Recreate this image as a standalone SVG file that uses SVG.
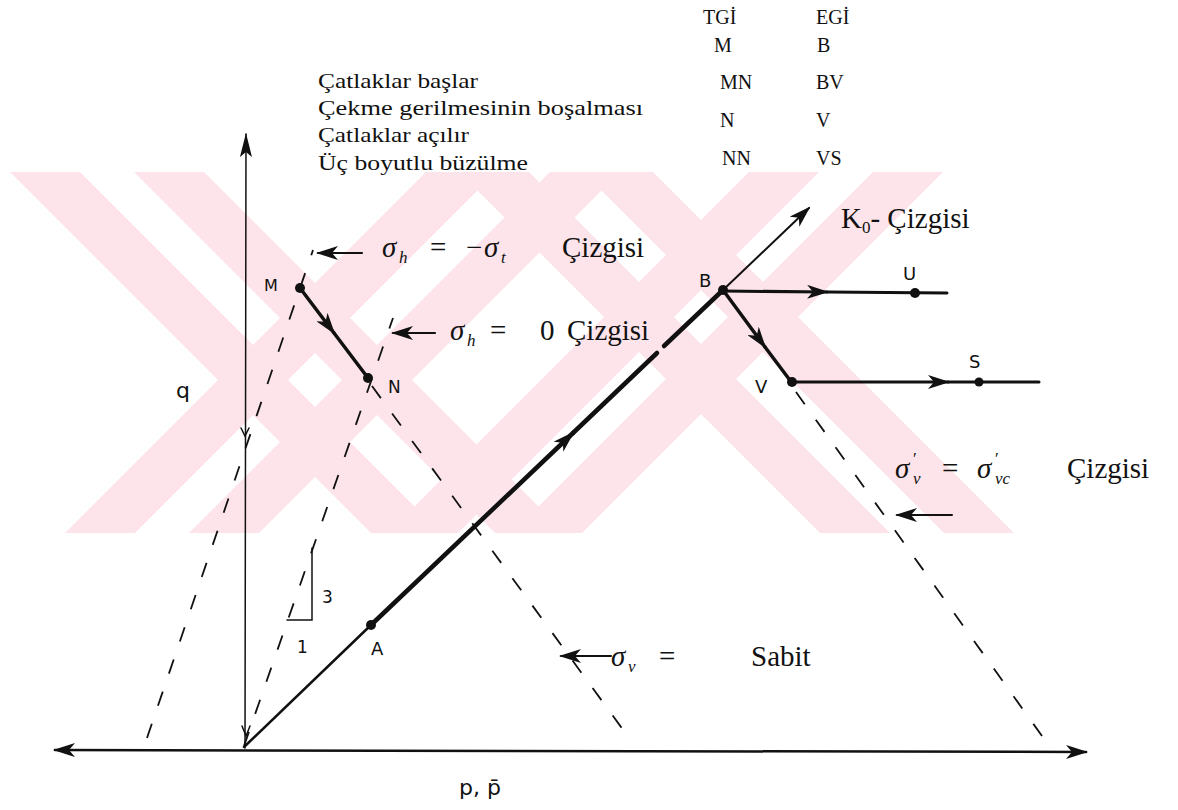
<svg xmlns="http://www.w3.org/2000/svg" width="1178" height="810" viewBox="0 0 1178 810">
<style>
.wm{fill:#fde4ea;stroke:none}
.ln{stroke:#111;fill:none;stroke-linecap:round}
.dash{stroke:#111;fill:none;stroke-width:1.8;stroke-dasharray:15 19}
.dot{fill:#111}
.serif{font-family:"Liberation Serif","Times New Roman",serif;fill:#111}
.mth{font-family:"Liberation Serif","Times New Roman",serif;font-style:italic;fill:#111}
.sans{font-family:"DejaVu Sans","Liberation Sans",sans-serif;fill:#111}
</style>
<defs>
<marker id="ah" viewBox="0 0 22 14" refX="20" refY="7" markerWidth="22" markerHeight="14" markerUnits="userSpaceOnUse" orient="auto-start-reverse"><path d="M0,0 L22,7 L0,14 L6,7 Z" fill="#111"/></marker>
<marker id="ahn" viewBox="0 0 24 12" refX="23" refY="6" markerWidth="24" markerHeight="12" markerUnits="userSpaceOnUse" orient="auto"><path d="M0,0 L24,6 L0,12 L5,6 Z" fill="#111"/></marker>
</defs>
<g id="watermark">
<polygon class="wm" points="10,172 80,172 441,533 371,533"/>
<polygon class="wm" points="134,172 204,172 565,533 495,533"/>
<polygon class="wm" points="426,172 496,172 135,533 65,533"/>
<polygon class="wm" points="550,172 620,172 259,533 189,533"/>
<polygon class="wm" points="459,172 529,172 890,533 820,533"/>
<polygon class="wm" points="583,172 653,172 1014,533 944,533"/>
<polygon class="wm" points="749,172 819,172 458,533 388,533"/>
<polygon class="wm" points="873,172 943,172 582,533 512,533"/>
</g>
<g id="axes">
<line class="ln" x1="55" y1="750" x2="1086" y2="752" stroke-width="2.5" marker-start="url(#ah)" marker-end="url(#ah)"/>
<line class="ln" x1="245" y1="748" x2="246" y2="134" stroke-width="1.5" marker-end="url(#ahn)"/>
<polyline class="ln" points="241,428 245,436 249,428" stroke-width="1.5"/>
<polyline class="ln" points="242,726 246,736 250,726" stroke-width="1.5"/>
</g>
<g id="dashed-lines">
<line class="dash" x1="147" y1="738" x2="313" y2="250"/>
<line class="dash" x1="244" y1="746" x2="393" y2="318"/>
<line class="dash" x1="372" y1="386" x2="632" y2="742"/>
<line class="dash" x1="796" y1="392" x2="1042" y2="736"/>
<polyline class="ln" points="312,548 312,620 287,620" stroke-width="1.5"/>
</g>
<g id="connectors">
<line class="ln" x1="244" y1="747" x2="371" y2="625" stroke-width="2.5"/>
<line class="ln" x1="371" y1="625" x2="573" y2="433" stroke-width="4.5" marker-end="url(#ah)"/>
<line class="ln" x1="573" y1="433" x2="657" y2="353" stroke-width="4.5"/>
<line class="ln" x1="664" y1="346" x2="723" y2="290" stroke-width="4.5"/>
<line class="ln" x1="723" y1="290" x2="809" y2="208" stroke-width="2" marker-end="url(#ah)"/>
<line class="ln" x1="300" y1="288" x2="334" y2="333" stroke-width="3.5" marker-end="url(#ah)"/>
<line class="ln" x1="334" y1="333" x2="368" y2="378" stroke-width="3.5"/>
<line class="ln" x1="723" y1="291" x2="827" y2="292" stroke-width="3" marker-end="url(#ah)"/>
<line class="ln" x1="827" y1="292" x2="947" y2="293" stroke-width="3"/>
<line class="ln" x1="723" y1="290" x2="765" y2="347" stroke-width="3.5" marker-end="url(#ah)"/>
<line class="ln" x1="765" y1="347" x2="792" y2="383" stroke-width="3.5"/>
<line class="ln" x1="792" y1="382" x2="948" y2="382" stroke-width="3" marker-end="url(#ah)"/>
<line class="ln" x1="948" y1="382" x2="1039" y2="382" stroke-width="3"/>
<line class="ln" x1="362" y1="253" x2="318" y2="253" stroke-width="2.2" marker-end="url(#ah)"/>
<line class="ln" x1="435" y1="333" x2="393" y2="333" stroke-width="2.2" marker-end="url(#ah)"/>
<line class="ln" x1="611" y1="656" x2="561" y2="656" stroke-width="2" marker-end="url(#ah)"/>
<line class="ln" x1="952" y1="515" x2="897" y2="515" stroke-width="2" marker-end="url(#ah)"/>
</g>
<g id="node-M"><circle class="dot" cx="300" cy="288" r="5"/><text class="sans" x="264" y="291" font-size="16">M</text></g>
<g id="node-N"><circle class="dot" cx="368" cy="378" r="5"/><text class="sans" x="388" y="393" font-size="17">N</text></g>
<g id="node-A"><circle class="dot" cx="371" cy="625" r="5"/><text class="sans" x="371" y="655" font-size="18">A</text></g>
<g id="node-B"><circle class="dot" cx="723" cy="290" r="5"/><text class="sans" x="699" y="287" font-size="18">B</text></g>
<g id="node-U"><circle class="dot" cx="915" cy="293" r="5"/><text class="sans" x="903" y="280" font-size="18">U</text></g>
<g id="node-V"><circle class="dot" cx="792" cy="382" r="5"/><text class="sans" x="755" y="393" font-size="18">V</text></g>
<g id="node-S"><circle class="dot" cx="979" cy="382" r="4.5"/><text class="sans" x="969" y="368" font-size="18">S</text></g>
<g id="axis-labels">
<text class="sans" x="176" y="398" font-size="22">q</text>
<text class="sans" x="459" y="795" font-size="22">p, p̄</text>
<text class="sans" x="322" y="603" font-size="17">3</text>
<text class="sans" x="297" y="653" font-size="17">1</text>
</g>
<g id="legend">
<text class="serif" x="318" y="88" font-size="22" textLength="160" lengthAdjust="spacingAndGlyphs">Çatlaklar başlar</text>
<text class="serif" x="318" y="115" font-size="22" textLength="325" lengthAdjust="spacingAndGlyphs">Çekme gerilmesinin boşalması</text>
<text class="serif" x="318" y="142" font-size="22" textLength="151" lengthAdjust="spacingAndGlyphs">Çatlaklar açılır</text>
<text class="serif" x="318" y="170" font-size="22" textLength="210" lengthAdjust="spacingAndGlyphs">Üç boyutlu büzülme</text>
<text class="serif" x="703" y="24" font-size="20">TGİ</text>
<text class="serif" x="816" y="24" font-size="20">EGİ</text>
<text class="serif" x="714" y="52" font-size="20">M</text>
<text class="serif" x="817" y="52" font-size="20">B</text>
<text class="serif" x="720" y="89" font-size="20">MN</text>
<text class="serif" x="816" y="89" font-size="20">BV</text>
<text class="serif" x="720" y="127" font-size="20">N</text>
<text class="serif" x="816" y="127" font-size="20">V</text>
<text class="serif" x="722" y="165" font-size="20">NN</text>
<text class="serif" x="816" y="165" font-size="20">VS</text>
</g>
<g id="label-k0"><text class="serif" x="841" y="228" font-size="29">K<tspan font-size="17" dy="5">0</tspan><tspan dy="-5">- Çizgisi</tspan></text></g>
<g id="label-sigma-t">
<text class="mth" x="382" y="257" font-size="29">σ</text><text class="mth" x="399" y="263" font-size="17">h</text>
<text class="serif" x="430" y="257" font-size="29">=</text>
<text class="serif" x="466" y="257" font-size="29">−</text><text class="mth" x="484" y="257" font-size="29">σ</text><text class="mth" x="501" y="263" font-size="17">t</text>
<text class="serif" x="562" y="257" font-size="29">Çizgisi</text>
</g>
<g id="label-sigma-0">
<text class="mth" x="450" y="340" font-size="29">σ</text><text class="mth" x="467" y="346" font-size="17">h</text>
<text class="serif" x="490" y="340" font-size="29">=</text>
<text class="serif" x="540" y="340" font-size="29">0</text>
<text class="serif" x="567" y="340" font-size="29">Çizgisi</text>
</g>
<g id="label-sigma-vc">
<text class="mth" x="895" y="478" font-size="29">σ</text><text class="serif" x="913" y="464" font-size="17">′</text><text class="mth" x="913" y="484" font-size="17">v</text>
<text class="serif" x="942" y="478" font-size="29">=</text>
<text class="mth" x="977" y="478" font-size="29">σ</text><text class="serif" x="995" y="464" font-size="17">′</text><text class="mth" x="995" y="484" font-size="17">vc</text>
<text class="serif" x="1067" y="478" font-size="29">Çizgisi</text>
</g>
<g id="label-sigma-v">
<text class="mth" x="611" y="666" font-size="29">σ</text><text class="mth" x="628" y="672" font-size="17">v</text>
<text class="serif" x="659" y="666" font-size="29">=</text>
<text class="serif" x="751" y="666" font-size="29">Sabit</text>
</g>
</svg>
